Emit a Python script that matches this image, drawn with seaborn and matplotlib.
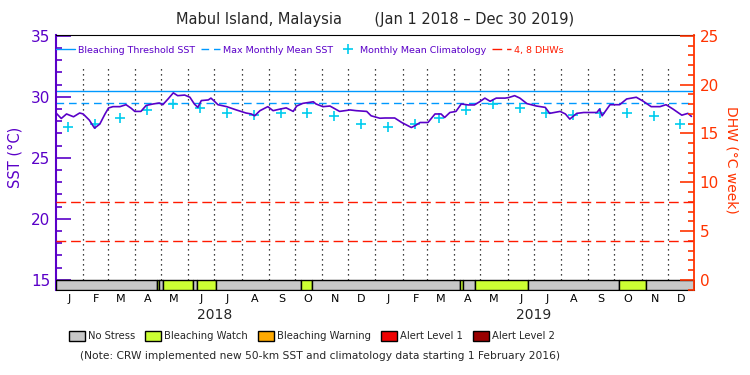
import matplotlib
matplotlib.use("Agg")
import matplotlib.pyplot as plt
import matplotlib.dates as mdates
from matplotlib.ticker import MultipleLocator
from matplotlib.patches import Patch
from matplotlib.lines import Line2D
import seaborn as sns
import pandas as pd

# daily SST trace (roughly weekly)
sst_dates = [
    "2018-01-01", "2018-01-07", "2018-01-13", "2018-01-21", "2018-01-28", "2018-02-01",
    "2018-02-08", "2018-02-14", "2018-02-20", "2018-02-26", "2018-03-02", "2018-03-07",
    "2018-03-15", "2018-03-22", "2018-03-28", "2018-04-01", "2018-04-08", "2018-04-14",
    "2018-04-22", "2018-04-29", "2018-05-03", "2018-05-09", "2018-05-15", "2018-05-20",
    "2018-05-28", "2018-06-03", "2018-06-08", "2018-06-12", "2018-06-16", "2018-06-24",
    "2018-06-27", "2018-07-01", "2018-07-05", "2018-07-15", "2018-07-26", "2018-08-06",
    "2018-08-12", "2018-08-16", "2018-08-22", "2018-08-31", "2018-09-06", "2018-09-14",
    "2018-09-21", "2018-09-29", "2018-10-03", "2018-10-10", "2018-10-22", "2018-10-25",
    "2018-11-02", "2018-11-10", "2018-11-21", "2018-12-03", "2018-12-10", "2018-12-22",
    "2018-12-27", "2019-01-06", "2019-01-12", "2019-01-23", "2019-01-31", "2019-02-11",
    "2019-02-15", "2019-02-21", "2019-03-02", "2019-03-10", "2019-03-17", "2019-03-21",
    "2019-03-27", "2019-04-03", "2019-04-09", "2019-04-17", "2019-04-24", "2019-04-30",
    "2019-05-06", "2019-05-12", "2019-05-19", "2019-05-29", "2019-06-02", "2019-06-09",
    "2019-06-15", "2019-06-23", "2019-07-04", "2019-07-14", "2019-07-19", "2019-07-31",
    "2019-08-06", "2019-08-11", "2019-08-19", "2019-08-27", "2019-09-03", "2019-09-11",
    "2019-09-14", "2019-09-17", "2019-09-26", "2019-10-07", "2019-10-15", "2019-10-26",
    "2019-11-03", "2019-11-12", "2019-11-22", "2019-11-29", "2019-12-07", "2019-12-17",
    "2019-12-24", "2019-12-28",
]
sst_values = [
    28.68, 28.23, 28.60, 28.37, 28.68, 28.60,
    28.10, 27.44, 27.77, 28.60, 29.09, 29.20,
    29.20, 29.36, 29.06, 28.81, 28.81, 29.30,
    29.42, 29.50, 29.36, 29.83, 30.33, 30.10,
    30.15, 29.97, 29.42, 29.14, 29.70, 29.75,
    29.90, 29.64, 29.36, 29.20, 28.93, 28.68,
    28.60, 28.45, 28.87, 29.20, 28.87, 29.00,
    29.10, 28.81, 29.25, 29.47, 29.60, 29.42,
    29.20, 29.25, 28.81, 28.93, 28.87, 28.81,
    28.45, 28.25, 28.27, 28.27, 27.90, 27.49,
    27.63, 27.90, 27.90, 28.60, 28.60, 28.31,
    28.72, 28.81, 29.42, 29.34, 29.34, 29.60,
    29.90, 29.64, 29.90, 29.90, 29.94, 30.10,
    29.90, 29.45, 29.25, 29.14, 28.65, 28.81,
    28.60, 28.18, 28.65, 28.72, 28.72, 28.72,
    29.00, 28.45, 29.36, 29.36, 29.83, 29.97,
    29.64, 29.20, 29.20, 29.36, 29.00, 28.50,
    28.65, 28.40,
]

# monthly mean climatology (Jan..Dec), shown mid-month in each year
clim_values = [27.52, 27.80, 28.25, 28.93, 29.42, 29.09, 28.68, 28.48, 28.68, 28.72, 28.43, 27.78]
years = [2018, 2019]
mmm = 29.47
threshold = 30.47
dhw_levels = [4, 8]

# bleaching alert status bar
status_starts = ["2018-01-01", "2018-04-26", "2018-04-29", "2018-05-03", "2018-06-07",
                 "2018-06-11", "2018-07-03", "2018-10-08", "2018-10-21", "2019-04-08",
                 "2019-04-11", "2019-04-25", "2019-06-24", "2019-10-06", "2019-11-06"]
status_ends = ["2018-04-26", "2018-04-29", "2018-05-03", "2018-06-07", "2018-06-11",
               "2018-07-03", "2018-10-08", "2018-10-21", "2019-04-08", "2019-04-11",
               "2019-04-25", "2019-06-24", "2019-10-06", "2019-11-06", "2019-12-31"]
status_levels = [0, 1, 0, 1, 0, 1, 0, 1, 0, 1, 0, 1, 0, 1, 0]
status_names = ["No Stress", "Bleaching Watch", "Bleaching Warning", "Alert Level 1", "Alert Level 2"]
status_colors = ["#c8c8c8", "#ccff33", "#ffaa00", "#ee0000", "#990000"]
month_letters = ["J", "F", "M", "A", "M", "J", "J", "A", "S", "O", "N", "D"]

PURPLE = "#5a00c8"
BLUE = "#0099ff"
CYAN = "#00ccee"
RED = "#ff1a00"
ORANGE = "#ff3300"

sns.set_style("white")
plt.rcParams["font.family"] = ["DejaVu Sans"]

sst = pd.DataFrame({"date": pd.to_datetime(sst_dates), "sst": sst_values})
clim = pd.DataFrame({
    "date": [pd.Timestamp(y, m + 1, 15) for y in years for m in range(12)],
    "sst": clim_values * len(years),
})

ylo, yhi = 14.17, 35.05
fig = plt.figure(figsize=(7.5, 3.75), dpi=100)
ax = fig.add_axes([0.0747, 0.2267, 0.8507, 0.6792])

# month boundaries (dotted)
month_starts = pd.date_range("2018-02-01", "2019-12-01", freq="MS")
ax.vlines(month_starts, 15, 32.6, colors="black", linestyles=(0, (1, 3)), lw=0.9, zorder=1)

ax.axhline(threshold, color=BLUE, lw=1, zorder=2)
ax.axhline(mmm, color=BLUE, lw=1, ls=(0, (5.5, 3.5)), zorder=2)

sns.scatterplot(data=clim, x="date", y="sst", marker="+", s=45, color=CYAN,
                linewidth=1.2, ax=ax, zorder=3, legend=False)
sns.lineplot(data=sst, x="date", y="sst", color=PURPLE, lw=1.2, ax=ax, zorder=4, legend=False)

# status bar
for s, e, lvl in zip(status_starts, status_ends, status_levels):
    x0 = mdates.date2num(pd.Timestamp(s))
    x1 = mdates.date2num(pd.Timestamp(e))
    ax.broken_barh([(x0, x1 - x0)], (ylo, 15 - ylo), facecolors=status_colors[lvl],
                   edgecolor="black", lw=1, zorder=5)

ax.set_xlim(pd.Timestamp("2018-01-01"), pd.Timestamp("2019-12-31"))
ax.set_ylim(ylo, yhi)
ax.set_xlabel("")
ax.set_ylabel("")

mid_months = [pd.Timestamp(y, m + 1, 16) for y in years for m in range(12)]
ax.set_xticks(mid_months)
ax.set_xticklabels(month_letters * len(years))
ax.tick_params(axis="x", length=0, labelsize=8, pad=3, colors="black")
for y in years:
    ax.text(pd.Timestamp(y, 7, 1), -0.098, str(y), transform=ax.get_xaxis_transform(),
            ha="center", va="center", fontsize=10)

ax.set_yticks([15, 20, 25, 30, 35])
ax.yaxis.set_minor_locator(MultipleLocator(1))
ax.tick_params(axis="y", which="major", direction="in", length=10.5, width=1.2,
               color=PURPLE, labelcolor=PURPLE, labelsize=11, pad=4)
ax.tick_params(axis="y", which="minor", direction="in", length=4.5, width=1.2, color=PURPLE)

# DHW axis
ax2 = ax.twinx()
ax2.set_ylim((ylo - 15) * 1.25, (yhi - 15) * 1.25)
for d in dhw_levels:
    ax2.axhline(d, color=RED, lw=1, ls=(0, (7, 3.5)), zorder=2)
ax2.set_yticks([0, 5, 10, 15, 20, 25])
ax2.yaxis.set_minor_locator(MultipleLocator(1))
ax2.tick_params(axis="y", which="major", direction="in", length=10, width=1.2,
                color=ORANGE, labelcolor=ORANGE, labelsize=11, pad=4)
ax2.tick_params(axis="y", which="minor", direction="in", length=4.5, width=1.2, color=ORANGE)

for sp in ["left", "top", "bottom"]:
    ax2.spines[sp].set_visible(False)
ax2.spines["right"].set_color(ORANGE)
ax2.spines["right"].set_linewidth(1.3)
ax.spines["left"].set_color(PURPLE)
ax.spines["left"].set_linewidth(1.5)
ax.spines["right"].set_visible(False)
ax.spines["top"].set_color("black")
ax.spines["bottom"].set_color("black")

# top legend
handles = [
    Line2D([], [], color=BLUE, lw=1),
    Line2D([], [], color=BLUE, lw=1, ls=(0, (5.5, 3.5))),
    Line2D([], [], color=CYAN, marker="+", ls="none", ms=7, mew=1.2),
    Line2D([], [], color=RED, lw=1, ls=(0, (7, 3.5))),
]
labels = ["Bleaching Threshold SST", "Max Monthly Mean SST", "Monthly Mean Climatology", "4, 8 DHWs"]
leg = ax2.legend(handles, labels, ncol=4, loc="center", bbox_to_anchor=(0.398, 0.942),
                 frameon=False, fontsize=6.8, handlelength=2.0, columnspacing=0.6,
                 handletextpad=0.3)
for t, c in zip(leg.get_texts(), [PURPLE, PURPLE, PURPLE, RED]):
    t.set_color(c)

fig.text(0.5, 0.947, "Mabul Island, Malaysia       (Jan 1 2018 \u2013 Dec 30 2019)",
         ha="center", va="center", fontsize=10.5)
fig.text(0.02, 0.581, "SST (\u00b0C)", rotation=90, ha="center", va="center",
         color=PURPLE, fontsize=10.5)
fig.text(0.976, 0.573, "DHW (\u00b0C week)", rotation=270, ha="center", va="center",
         color=ORANGE, fontsize=10)

# status legend + note
patches = [Patch(facecolor=c, edgecolor="black", lw=1) for c in status_colors]
fig.legend(patches, status_names, ncol=5, loc="center", bbox_to_anchor=(0.416, 0.104),
           frameon=False, fontsize=7.2, handlelength=1.6, handleheight=1.1,
           columnspacing=1.0, handletextpad=0.3)
fig.text(0.427, 0.051,
         "(Note: CRW implemented new 50-km SST and climatology data starting 1 February 2016)",
         ha="center", va="center", fontsize=7.7)

fig.savefig("out.png", dpi=100)
